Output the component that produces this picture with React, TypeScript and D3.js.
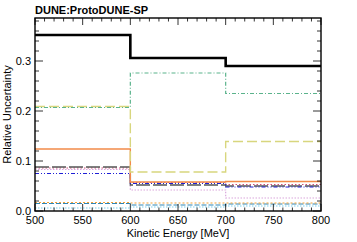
import React from "react";
import * as d3 from "d3";

// bin edges in MeV
const binEdges = [500, 600, 700, 800];

const totalUnc = [0.352, 0.306, 0.29];
const tealDashDot = [0.207, 0.276, 0.235];
const oliveDash = [0.209, 0.078, 0.139];
const orangeSolid = [0.124, 0.058, 0.059];
const grayDash = [0.088, 0.052, 0.05];
const pinkDot = [0.083, 0.042, 0.026];
const blueDashDot = [0.075, 0.055, 0.048];
const redDot = [0.086, 0.057, 0.053];
const orangeDot = [0.017, 0.016, 0.016];
const tealDash = [0.015, 0.012, 0.014];
const cyanDot = [0.006, 0.008, 0.01];

const xTicks = [500, 550, 600, 650, 700, 750, 800];
const yTicks = [0.0, 0.1, 0.2, 0.3];

const series = [
  { vals: cyanDot, color: "#7fd0ea", width: 1.2, dash: "1.5,1.5" },
  { vals: tealDash, color: "#2e86b5", width: 1.2, dash: "5,2" },
  { vals: orangeDot, color: "#f2a33a", width: 1.2, dash: "2,2" },
  { vals: pinkDot, color: "#d9a6dc", width: 1.2, dash: "1.5,1.5" },
  { vals: redDot, color: "#d0507a", width: 1.2, dash: "1.5,2" },
  { vals: grayDash, color: "#555555", width: 1.4, dash: "14,3" },
  { vals: blueDashDot, color: "#1f1fd6", width: 1.2, dash: "4,2,1,2,1,2" },
  { vals: orangeSolid, color: "#f28a4a", width: 1.4, dash: "" },
  { vals: oliveDash, color: "#d8d67e", width: 1.4, dash: "10,4" },
  { vals: tealDashDot, color: "#5bb38c", width: 1.2, dash: "4,2,1,2" },
  { vals: totalUnc, color: "#000000", width: 2.6, dash: "" },
];

const App = () => {
  const width = 357;
  const height = 242;
  const margin = { top: 18, right: 36, bottom: 31, left: 35 };

  const x = d3.scaleLinear().domain([500, 800]).range([margin.left, width - margin.right]);
  const y = d3.scaleLinear().domain([0, 0.386]).range([height - margin.bottom, margin.top]);

  const line = d3
    .line<[number, number]>()
    .x((d) => x(d[0]))
    .y((d) => y(d[1]))
    .curve(d3.curveStepAfter);

  const stepPts = (vals: number[]): [number, number][] =>
    binEdges.map((e, i) => [e, vals[Math.min(i, vals.length - 1)]]);

  const x0 = x(500), x1 = x(800), y0 = y(0), y1 = margin.top;
  const xMinor = d3.range(500, 801, 10);
  const yMinor = d3.range(0, 0.386, 0.02);
  const font = "Liberation Sans, Arial, sans-serif";

  return (
    <svg width={width} height={height} style={{ position: "absolute", left: 0, top: 0 }}>
      <rect width={width} height={height} fill="#fff" />
      <text x={35} y={14} fontFamily={font} fontWeight="bold" fontSize={11}>
        DUNE:ProtoDUNE-SP
      </text>

      {series.map((s, i) => (
        <path
          key={i}
          d={line(stepPts(s.vals)) || ""}
          fill="none"
          stroke={s.color}
          strokeWidth={s.width}
          strokeDasharray={s.dash || undefined}
        />
      ))}

      {/* ticks */}
      {xMinor.map((t) => {
        const major = t % 50 === 0;
        const len = major ? 7 : 3.5;
        return (
          <g key={"xt" + t} stroke="#000" strokeWidth={0.8}>
            <line x1={x(t)} x2={x(t)} y1={y0} y2={y0 - len} />
            <line x1={x(t)} x2={x(t)} y1={y1} y2={y1 + len} />
          </g>
        );
      })}
      {yMinor.map((t, i) => {
        const major = i % 5 === 0;
        const len = major ? 8 : 4;
        return (
          <g key={"yt" + i} stroke="#000" strokeWidth={0.8}>
            <line x1={x0} x2={x0 + len} y1={y(t)} y2={y(t)} />
            <line x1={x1} x2={x1 - len} y1={y(t)} y2={y(t)} />
          </g>
        );
      })}

      <rect x={x0} y={y1} width={x1 - x0} height={y0 - y1} fill="none" stroke="#000" strokeWidth={1.4} />

      {xTicks.map((t) => (
        <text key={"xl" + t} x={x(t)} y={y0 + 13} textAnchor="middle" fontFamily={font} fontSize={11}>
          {t}
        </text>
      ))}
      {yTicks.map((t) => (
        <text key={"yl" + t} x={x0 - 4} y={y(t) + 4} textAnchor="end" fontFamily={font} fontSize={11}>
          {t.toFixed(1)}
        </text>
      ))}

      <text x={(x0 + x1) / 2} y={y0 + 26} textAnchor="middle" fontFamily={font} fontSize={11}>
        Kinetic Energy [MeV]
      </text>
      <text
        transform={`translate(11, ${(y0 + y1) / 2}) rotate(-90)`}
        textAnchor="middle"
        fontFamily={font}
        fontSize={11}
      >
        Relative Uncertainty
      </text>
    </svg>
  );
};

export default App;
